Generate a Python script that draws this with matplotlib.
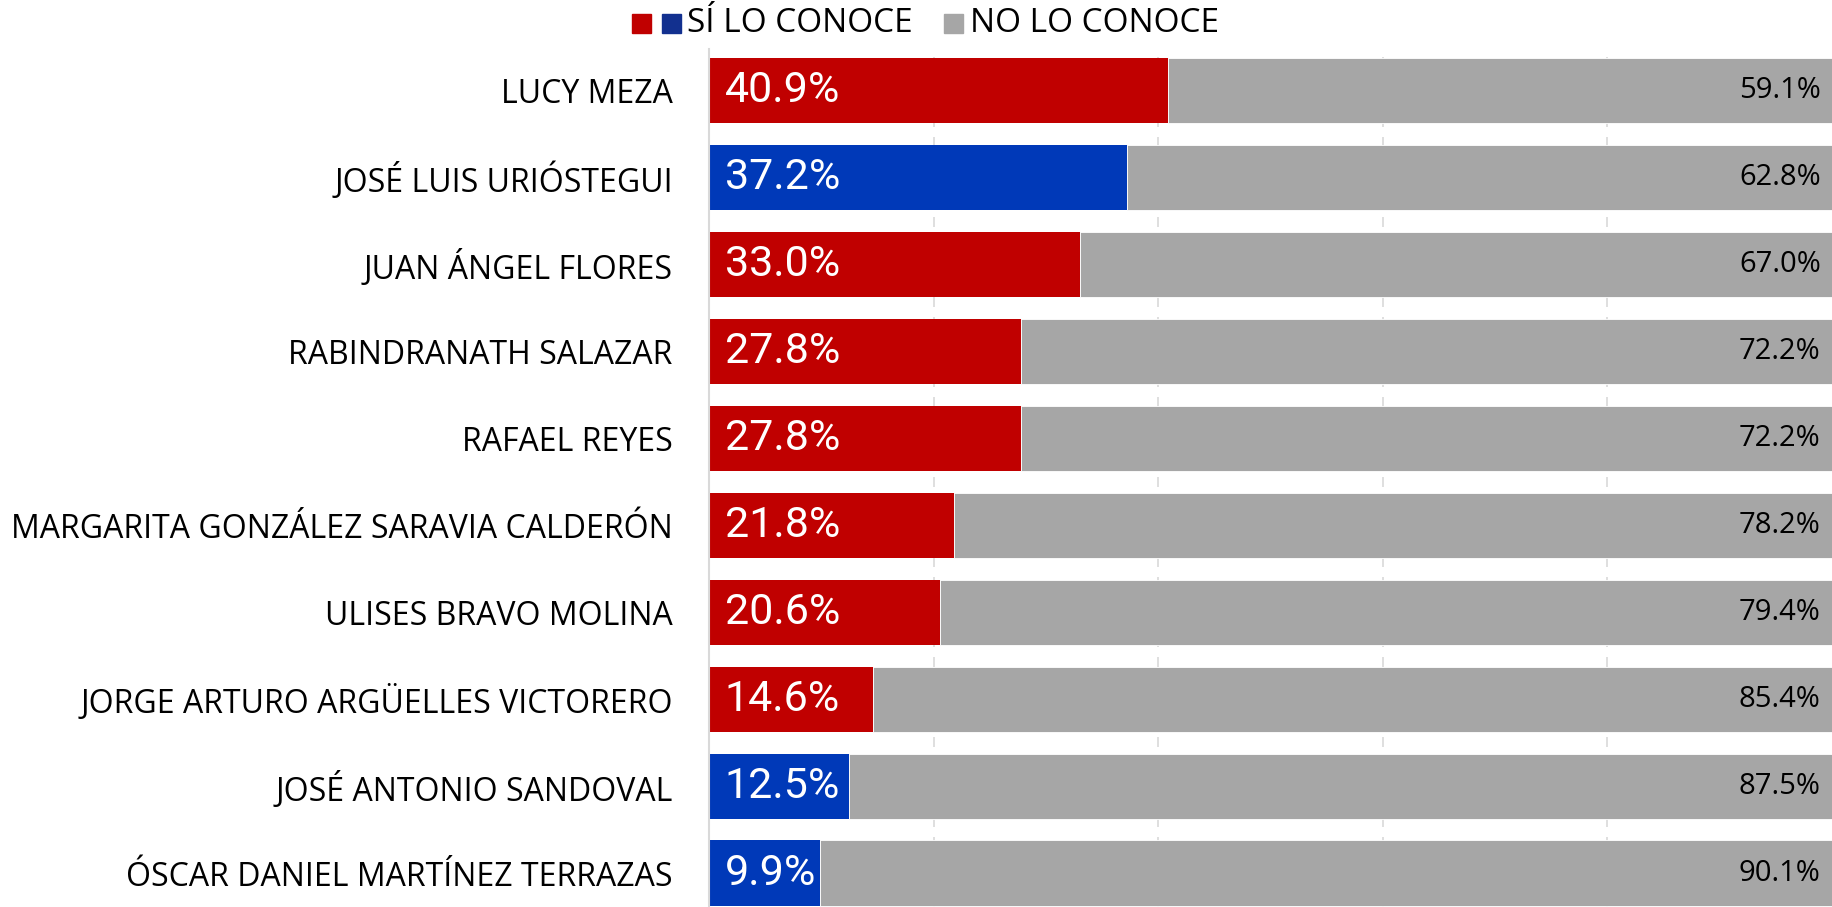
import matplotlib.pyplot as plt

# --- Data ---
names = [
    "LUCY MEZA",
    "JOSÉ LUIS URIÓSTEGUI",
    "JUAN ÁNGEL FLORES",
    "RABINDRANATH SALAZAR",
    "RAFAEL REYES",
    "MARGARITA GONZÁLEZ SARAVIA CALDERÓN",
    "ULISES BRAVO MOLINA",
    "JORGE ARTURO ARGÜELLES VICTORERO",
    "JOSÉ ANTONIO SANDOVAL",
    "ÓSCAR DANIEL MARTÍNEZ TERRAZAS",
]
si_conoce = [40.9, 37.2, 33.0, 27.8, 27.8, 21.8, 20.6, 14.6, 12.5, 9.9]
no_conoce = [59.1, 62.8, 67.0, 72.2, 72.2, 78.2, 79.4, 85.4, 87.5, 90.1]
grupo = ["r", "b", "r", "r", "r", "r", "r", "r", "b", "b"]

RED = "#C00000"
BLUE = "#0039B8"
GRAY = "#A6A6A6"
bar_colors = [RED if g == "r" else BLUE for g in grupo]

# --- Figure ---
fig = plt.figure(figsize=(18.32, 9.07), dpi=100)
ax = fig.add_axes([0.387, 0.0, 0.613, 0.946])

y = list(range(len(names)))
ax.barh(y, si_conoce, height=0.75, color=bar_colors, zorder=2)
ax.barh(y, no_conoce, left=si_conoce, height=0.75, color=GRAY,
        edgecolor="white", linewidth=0.6, zorder=2)

for i, (s, n) in enumerate(zip(si_conoce, no_conoce)):
    ax.text(1.4, i, f"{s:.1f}%", color="white", fontsize=31,
            family="Roboto", va="center", ha="left", zorder=3)
    ax.text(99.0, i, f"{n:.1f}%", color="black", fontsize=21,
            family="Open Sans", va="center", ha="right", zorder=3)

ax.set_xlim(0, 100)
ax.set_ylim(9.39, -0.48)
ax.set_yticks(y)
ax.set_yticklabels(names, fontsize=23, family="Open Sans")
ax.tick_params(axis="y", length=0, pad=26)
ax.set_xticks([20, 40, 60, 80])
ax.tick_params(axis="x", length=0, labelbottom=False)
ax.grid(axis="x", color="#D9D9D9", linestyle=(0, (6, 6)), linewidth=1.2, zorder=0)

for side in ["top", "right", "bottom"]:
    ax.spines[side].set_visible(False)
ax.spines["left"].set_color("#D9D9D9")
ax.spines["left"].set_linewidth(1.5)

# --- Legend (drawn manually at the top) ---
def square(x, color):
    fig.patches.append(plt.Rectangle((x, 0.964), 0.0102, 0.0206, color=color,
                                     transform=fig.transFigure, figure=fig))

square(0.345, RED)
square(0.3616, "#12308F")
fig.text(0.375, 0.974, "SÍ LO CONOCE", fontsize=24, family="Open Sans",
         va="center", ha="left")
square(0.5153, GRAY)
fig.text(0.5293, 0.974, "NO LO CONOCE", fontsize=24, family="Open Sans",
         va="center", ha="left")

fig.savefig("out.png", dpi=100)
